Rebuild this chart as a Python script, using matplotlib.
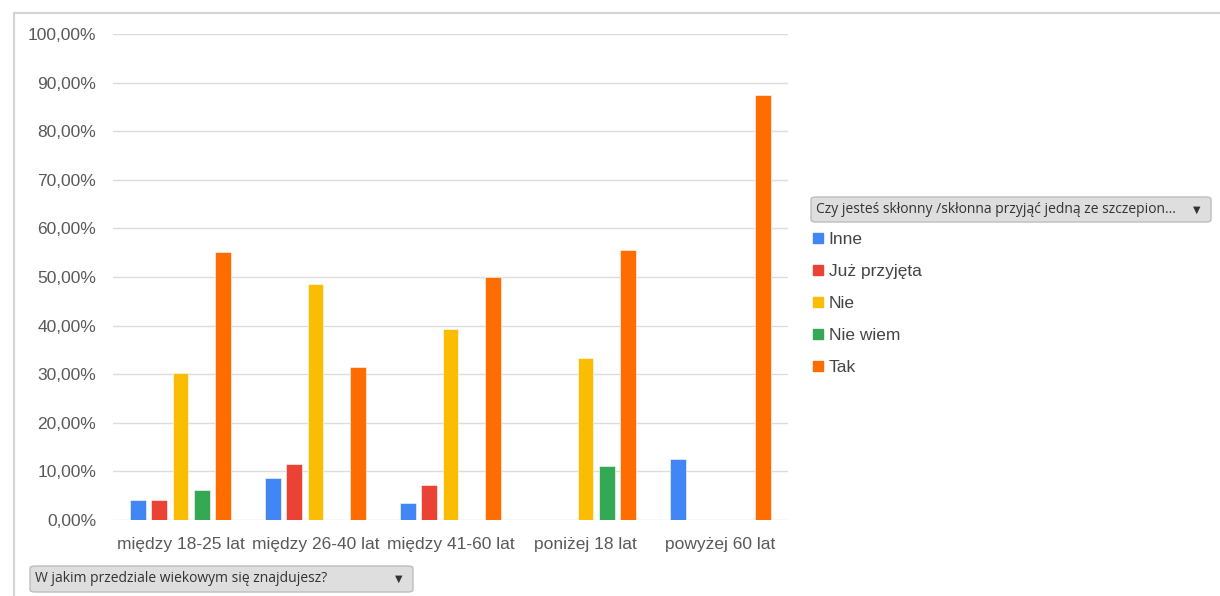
import numpy as np
import matplotlib.pyplot as plt
from matplotlib.patches import FancyBboxPatch
from matplotlib.lines import Line2D

plt.rcParams['font.family'] = ['Liberation Sans', 'DejaVu Sans']

age_groups = ['między 18-25 lat', 'między 26-40 lat', 'między 41-60 lat', 'poniżej 18 lat', 'powyżej 60 lat']
series = ['Inne', 'Już przyjęta', 'Nie', 'Nie wiem', 'Tak']
inne = [4.17, 8.57, 3.57, 0, 12.5]
juz_przyjeta = [4.17, 11.43, 7.14, 0, 0]
nie = [30.21, 48.57, 39.29, 33.33, 0]
nie_wiem = [6.25, 0, 0, 11.11, 0]
tak = [55.21, 31.43, 50.0, 55.56, 87.5]
colors = ['#4285F4', '#EA4335', '#FBBC04', '#34A853', '#FF6D01']

values = [inne, juz_przyjeta, nie, nie_wiem, tak]

fig = plt.figure(figsize=(12.2, 5.96), dpi=100)
ax = fig.add_axes([113 / 1220, 1 - 520 / 596, 675 / 1220, 486 / 596])

x = np.arange(len(age_groups))
step = 0.156
width = 0.118
for i, (name, vals) in enumerate(zip(series, values)):
	ax.bar(x + (i - 2) * step, vals, width, color=colors[i], label=name,
		   edgecolor='white', linewidth=0.4, zorder=3)

ax.set_xlim(-0.5, len(age_groups) - 0.5)
ax.set_ylim(0, 100)
ax.set_yticks(np.arange(0, 101, 10))
ax.set_yticklabels([f'{v:.2f}%'.replace('.', ',') for v in np.arange(0, 101, 10)])
ax.set_xticks(x)
ax.set_xticklabels(age_groups)
ax.tick_params(axis='both', length=0, labelsize=12.5, colors='#595959')
ax.tick_params(axis='y', pad=12)
ax.tick_params(axis='x', pad=12)
ax.grid(axis='y', color='#dcdcdc', linewidth=1, zorder=0)
for s in ax.spines.values():
	s.set_visible(False)

# legend
handles = [plt.Rectangle((0, 0), 1, 1, color=c) for c in colors]
leg = fig.legend(handles, series, loc='upper left', bbox_to_anchor=(813 / 1220, 1 - 232 / 596),
				 frameon=False, fontsize=12.5, handlelength=0.55, handleheight=0.55,
				 handletextpad=0.35, labelspacing=0.98, borderaxespad=0, borderpad=0)
for t in leg.get_texts():
	t.set_color('#444444')

# filter buttons
def button(x0, y0, x1, y1, text):
	box = FancyBboxPatch((x0 / 1220, 1 - y1 / 596), (x1 - x0) / 1220, (y1 - y0) / 596,
						 boxstyle='round,pad=0,rounding_size=0.004', transform=fig.transFigure,
						 facecolor='#dedede', edgecolor='#bdbdbd', linewidth=1)
	fig.patches.append(box)
	fig.text((x0 + 5) / 1220, 1 - (y0 + y1) / 2 / 596, text, fontsize=10, color='#333333',
			 va='center', ha='left', family=['Open Sans', 'DejaVu Sans'])
	fig.text((x1 - 14) / 1220, 1 - (y0 + y1) / 2 / 596, '▼', fontsize=7, color='#333333',
			 va='center', ha='center', family='DejaVu Sans')

button(811, 197, 1211, 222, 'Czy jesteś skłonny /skłonna przyjąć jedną ze szczepion...')
button(30, 566, 413, 592, 'W jakim przedziale wiekowym się znajdujesz?')

# outer frame
fig.add_artist(Line2D([14 / 1220, 1], [1 - 13 / 596, 1 - 13 / 596], transform=fig.transFigure,
					  color='#d4d4d4', linewidth=1.5))
fig.add_artist(Line2D([14 / 1220, 14 / 1220], [0, 1 - 13 / 596], transform=fig.transFigure,
					  color='#d4d4d4', linewidth=1.5))

plt.savefig('out.png', dpi=100)
